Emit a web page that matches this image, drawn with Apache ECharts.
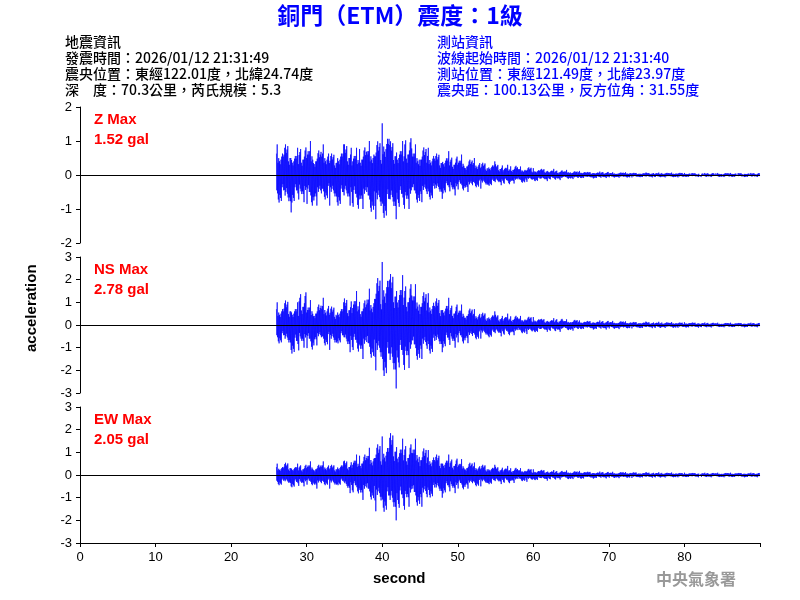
<!DOCTYPE html>
<html><head><meta charset="utf-8">
<script src="https://cdn.jsdelivr.net/npm/echarts@6/dist/echarts.min.js"></script>
<style>html,body{margin:0;background:#fff}#c{width:800px;height:600px}</style>
</head><body><div id="c"></div>
<script>
// envelope per second, starting at t=26 s
var startSec = 26;
var zUp = [0.9,1.0,0.8,0.9, 1.0,0.8,0.9,0.7,0.9, 1.0,0.8,0.9,1.0,1.1, 1.52,1.1,1.0,1.2,0.9, 0.9,0.8,0.7,0.7,0.6,
  0.6,0.5,0.5,0.4,0.4, 0.35,0.3,0.3,0.25,0.25, 0.2,0.2,0.18,0.15,0.15, 0.12,0.12,0.1,0.1,0.1,
  0.08,0.08,0.08,0.07,0.07,0.07,0.07,0.07,0.07,0.07,0.06,0.06,0.06,0.06,0.06,0.06,0.06,0.06,0.06,0.06];
var zLo = [-0.9,-1.1,-0.9,-0.8, -1.0,-0.9,-0.8,-0.9,-1.0, -0.9,-1.1,-1.0,-1.2,-1.3, -1.4,-1.3,-1.1,-1.0,-0.9, -0.8,-0.8,-0.7,-0.6,-0.6,
  -0.5,-0.5,-0.4,-0.4,-0.35, -0.3,-0.3,-0.25,-0.25,-0.2, -0.2,-0.18,-0.15,-0.15,-0.12, -0.12,-0.1,-0.1,-0.1,-0.09,
  -0.08,-0.08,-0.08,-0.07,-0.07,-0.07,-0.07,-0.07,-0.07,-0.07,-0.06,-0.06,-0.06,-0.06,-0.06,-0.06,-0.06,-0.06,-0.06,-0.06];
var nsUp = [1.0,1.2,1.0,1.6, 1.1,1.0,1.2,0.9,1.0, 1.3,1.5,1.2,1.6,2.3, 2.78,2.5,2.2,2.0,1.8, 1.6,1.4,1.3,1.2,1.0,
  0.9,0.8,0.7,0.6,0.6, 0.5,0.5,0.45,0.4,0.4, 0.35,0.3,0.3,0.3,0.25, 0.25,0.2,0.2,0.2,0.2,
  0.18,0.18,0.16,0.15,0.15,0.14,0.14,0.13,0.13,0.12,0.12,0.12,0.11,0.11,0.1,0.1,0.1,0.1,0.1,0.1];
var nsLo = [-0.9,-1.1,-1.4,-1.0, -1.2,-0.9,-1.0,-1.1,-0.9, -1.2,-1.3,-1.5,-1.6,-2.0, -2.5,-2.8,-2.2,-1.9,-1.7, -1.5,-1.4,-1.2,-1.1,-1.0,
  -0.9,-0.8,-0.7,-0.6,-0.6, -0.5,-0.5,-0.45,-0.4,-0.4, -0.35,-0.3,-0.3,-0.3,-0.25, -0.25,-0.2,-0.2,-0.2,-0.2,
  -0.18,-0.18,-0.16,-0.15,-0.15,-0.14,-0.14,-0.13,-0.13,-0.12,-0.12,-0.12,-0.11,-0.11,-0.1,-0.1,-0.1,-0.1,-0.1,-0.1];
var ewUp = [0.5,0.6,0.5,0.5, 0.6,0.5,0.6,0.5,0.6, 0.7,0.9,1.0,1.2,1.5, 1.7,2.05,1.6,1.5,1.6, 1.3,1.1,1.0,0.9,0.8,
  0.7,0.6,0.55,0.5,0.45, 0.4,0.4,0.35,0.3,0.3, 0.25,0.25,0.22,0.2,0.2, 0.18,0.18,0.16,0.15,0.15,
  0.14,0.14,0.13,0.13,0.12,0.12,0.12,0.11,0.11,0.1,0.1,0.1,0.1,0.1,0.1,0.1,0.1,0.1,0.1,0.1];
var ewLo = [-0.5,-0.5,-0.6,-0.5, -0.5,-0.6,-0.5,-0.6,-0.5, -0.8,-0.9,-1.1,-1.2,-1.6, -1.8,-2.0,-1.7,-1.4,-1.5, -1.4,-1.1,-1.0,-0.9,-0.8,
  -0.7,-0.6,-0.55,-0.5,-0.45, -0.4,-0.4,-0.35,-0.3,-0.3, -0.25,-0.25,-0.22,-0.2,-0.2, -0.18,-0.18,-0.16,-0.15,-0.15,
  -0.14,-0.14,-0.13,-0.13,-0.12,-0.12,-0.12,-0.11,-0.11,-0.1,-0.1,-0.1,-0.1,-0.1,-0.1,-0.1,-0.1,-0.1,-0.1,-0.1];
var xTicks = [0,10,20,30,40,50,60,70,80];
// relative swing sizes within each second (fixed pattern)
var swing = [0.7,0.5,1.0,0.6,0.4,0.8,0.55,0.9,0.45,0.65,0.35,0.75,0.5,0.85,0.6,0.4,0.7,0.3,0.6,0.5];

function trace(up, lo) {
  var d = [];
  for (var i = 0; i < up.length; i++) {
    for (var j = 0; j < swing.length; j++) {
      var v = (j % 2 === 0 ? up[i] : lo[i]) * swing[(j + i * 3) % swing.length];
      d.push([startSec + i + j / swing.length, v]);
    }
  }
  return d;
}

var chart = echarts.init(document.getElementById('c'));
var tops = [107, 257, 407], ranges = [2, 3, 3], traces = [trace(zUp,zLo), trace(nsUp,nsLo), trace(ewUp,ewLo)];
var grid = [], xAxis = [], yAxis = [], series = [];
for (var k = 0; k < 3; k++) {
  grid.push({left: 80, right: 40, top: tops[k], height: 136});
  xAxis.push({gridIndex: k, type: 'value', min: 0, max: 90, interval: 10, show: k === 2,
    axisLine: {onZero: false, lineStyle: {color: '#000'}}, axisTick: {lineStyle: {color: '#000'}, length: 4}, splitLine: {show: false},
    axisLabel: {color: '#000', fontSize: 13, fontFamily: 'Arial',
      formatter: function (v) { return xTicks.indexOf(v) >= 0 ? v : ''; }}});
  yAxis.push({gridIndex: k, type: 'value', min: -ranges[k], max: ranges[k], interval: 1,
    axisLine: {show: true, lineStyle: {color: '#000'}}, axisTick: {show: true, length: 4, lineStyle: {color: '#000'}},
    splitLine: {show: false}, axisLabel: {color: '#000', fontSize: 13, fontFamily: 'Arial'}});
  series.push({type: 'line', xAxisIndex: k, yAxisIndex: k, data: traces[k], showSymbol: false,
    lineStyle: {color: '#0000ff', width: 0.7}, animation: false,
    markLine: {silent: true, symbol: 'none', label: {show: false}, lineStyle: {color: '#000', width: 1, type: 'solid'}, data: [{yAxis: 0}]}});
}
var cjk = '"Noto Sans CJK TC", sans-serif';
function txt(x, y, s, color) {
  return {type: 'text', left: x, top: y, style: {text: s, fill: color, font: '500 14px ' + cjk}};
}
chart.setOption({
  animation: false,
  grid: grid, xAxis: xAxis, yAxis: yAxis, series: series,
  graphic: [
    {type: 'text', left: 'center', top: 4, style: {text: '銅門（ETM）震度：1級', fill: '#0000ff', font: 'bold 23px ' + cjk}},
    txt(65, 35, '地震資訊', '#000'),
    txt(65, 51, '發震時間：2026/01/12 21:31:49', '#000'),
    txt(65, 67, '震央位置：東經122.01度，北緯24.74度', '#000'),
    txt(65, 83, '深　度：70.3公里，芮氏規模：5.3', '#000'),
    txt(437, 35, '測站資訊', '#0000ff'),
    txt(437, 51, '波線起始時間：2026/01/12 21:31:40', '#0000ff'),
    txt(437, 67, '測站位置：東經121.49度，北緯23.97度', '#0000ff'),
    txt(437, 83, '震央距：100.13公里，反方位角：31.55度', '#0000ff'),
    {type: 'text', left: 94, top: 110, style: {text: 'Z Max\n1.52 gal', fill: '#ff0000', font: 'bold 15px Arial', lineHeight: 20}},
    {type: 'text', left: 94, top: 260, style: {text: 'NS Max\n2.78 gal', fill: '#ff0000', font: 'bold 15px Arial', lineHeight: 20}},
    {type: 'text', left: 94, top: 410, style: {text: 'EW Max\n2.05 gal', fill: '#ff0000', font: 'bold 15px Arial', lineHeight: 20}},
    {type: 'text', x: 24, y: 352, rotation: Math.PI/2, style: {text: 'acceleration', fill: '#000', font: 'bold 15px Arial'}},
    {type: 'text', left: 373, top: 571, style: {text: 'second', fill: '#000', font: 'bold 15px Arial'}},
    {type: 'text', left: 656, top: 571, style: {text: '中央氣象署', fill: '#999', font: 'bold 16px ' + cjk}}
  ]
});
</script></body></html>
